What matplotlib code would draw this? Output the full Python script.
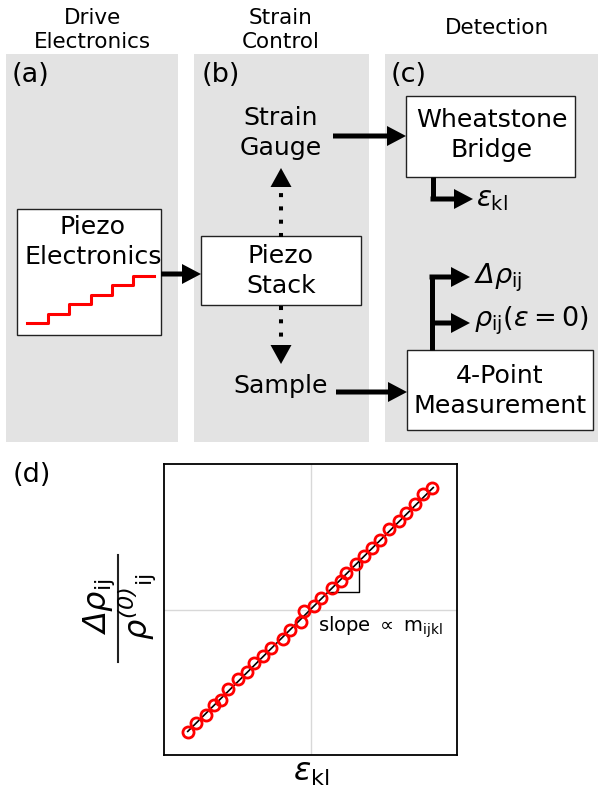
import matplotlib
matplotlib.use('Agg')
import matplotlib.pyplot as plt
from matplotlib.patches import Rectangle, Polygon

plt.rcParams['font.family'] = 'DejaVu Sans'
# italic roman so that capital Greek letters come out slanted; upright text goes through \mathsf
plt.rcParams['mathtext.fontset'] = 'custom'
plt.rcParams['mathtext.rm'] = 'DejaVu Sans:italic'
plt.rcParams['mathtext.it'] = 'DejaVu Sans:italic'
plt.rcParams['mathtext.sf'] = 'DejaVu Sans'
plt.rcParams['mathtext.bf'] = 'DejaVu Sans:bold'

# strain sweep and the normalized resistivity change measured at each step
strain = [-0.838, -0.781, -0.713, -0.656, -0.610, -0.560, -0.492, -0.435, -0.383, -0.326,
          -0.273, -0.185, -0.137, -0.068, -0.046, 0.027, 0.073, 0.148, 0.205, 0.244,
          0.312, 0.362, 0.419, 0.472, 0.535, 0.604, 0.649, 0.711, 0.768, 0.829]
drho = [-0.841, -0.779, -0.722, -0.658, -0.619, -0.543, -0.481, -0.428, -0.371, -0.318,
        -0.268, -0.206, -0.142, -0.085, -0.011, 0.023, 0.080, 0.149, 0.195, 0.252,
        0.312, 0.371, 0.426, 0.481, 0.550, 0.609, 0.660, 0.722, 0.797, 0.838]

# linear fit and slope marker
fit_x = [-0.838, 0.838]
fit_y = [-0.838, 0.838]
tri_x = [0.117, 0.328, 0.328]
tri_y = [0.117, 0.117, 0.328]

# voltage staircase of the piezo driver
step_t = [0, 1, 2, 3, 4, 5, 6]
step_v = [0, 1, 2, 3, 4, 5, 5]

W, H = 598, 789
fig = plt.figure(figsize=(W / 100, H / 100), dpi=100)


def rect(x0, y0, x1, y1):
    return [x0 / W, 1 - y1 / H, (x1 - x0) / W, (y1 - y0) / H]


ax = fig.add_axes([0, 0, 1, 1])
ax.set_xlim(0, W)
ax.set_ylim(H, 0)
ax.axis('off')

gray = '#e3e3e3'
for x0, x1 in [(6, 178), (194, 369), (385, 598)]:
    ax.add_patch(Rectangle((x0, 54), x1 - x0, 388, fc=gray, ec='none'))

for x0, y0, x1, y1 in [(17, 209, 161, 335), (201, 236, 361, 305),
                       (406, 96, 575, 177), (407, 350, 593, 430)]:
    ax.add_patch(Rectangle((x0, y0), x1 - x0, y1 - y0, fc='white', ec='#222222', lw=1.0))

fs = 18.2
ls = 1.3
ax.text(92, 30, 'Drive\nElectronics', ha='center', va='center', fontsize=15.5, linespacing=1.25)
ax.text(281, 30, 'Strain\nControl', ha='center', va='center', fontsize=15.5, linespacing=1.25)
ax.text(497, 28, 'Detection', ha='center', va='center', fontsize=15.5)

for x, lab in [(12, '(a)'), (202, '(b)'), (391, '(c)')]:
    ax.text(x, 75, lab, ha='left', va='center', fontsize=19.5)

ax.text(93, 242, 'Piezo\nElectronics', ha='center', va='center', fontsize=fs, linespacing=ls)
ax.text(281, 271, 'Piezo\nStack', ha='center', va='center', fontsize=fs, linespacing=ls)
ax.text(281, 133, 'Strain\nGauge', ha='center', va='center', fontsize=fs, linespacing=ls)
ax.text(281, 386, 'Sample', ha='center', va='center', fontsize=fs)
ax.text(492, 135, 'Wheatstone\nBridge', ha='center', va='center', fontsize=fs, linespacing=ls)
ax.text(500, 391, '4-Point\nMeasurement', ha='center', va='center', fontsize=fs, linespacing=ls)


def arrow(x0, y0, x1, y1):
    ax.arrow(x0, y0, x1 - x0, y1 - y0, width=5, head_width=20, head_length=19,
             length_includes_head=True, fc='k', ec='none')


arrow(161, 274, 201, 274)
arrow(333, 136, 406, 136)
arrow(336, 392, 407, 392)

# strain gauge readout
ax.plot([433, 433], [177, 199], color='k', lw=3.6, solid_capstyle='butt')
arrow(430.5, 199, 473, 199)
ax.text(476, 199, r'$\varepsilon_{\mathsf{kl}}$', ha='left', va='center', fontsize=20)

# resistivity readout
ax.plot([432, 432], [350, 274.5], color='k', lw=3.6, solid_capstyle='butt')
arrow(429.5, 277, 470, 277)
arrow(432, 323, 470, 323)
ax.text(474, 278, r'$\Delta\rho_{\mathsf{ij}}$', ha='left', va='center', fontsize=19.5)
ax.text(474, 321, r'$\rho_{\mathsf{ij}}\mathsf{(}\varepsilon\mathsf{=0)}$', ha='left', va='center',
        fontsize=19.5)

# piezo stack motion, up and down
ax.plot([281, 281], [237, 190], color='k', lw=2.9, linestyle=(0, (1, 2.3)), dash_capstyle='butt')
ax.plot([281, 281], [306, 343], color='k', lw=2.9, linestyle=(0, (1, 2.3)), dash_capstyle='butt')
ax.add_patch(Polygon([(270.5, 187), (291.5, 187), (281, 168)], fc='k', ec='none'))
ax.add_patch(Polygon([(270.5, 345), (291.5, 345), (281, 364)], fc='k', ec='none'))

# staircase inside the driver box
ax_st = fig.add_axes(rect(27, 276, 154, 323))
ax_st.plot(step_t, step_v, drawstyle='steps-post', color='#ff0000', lw=2.2, clip_on=False)
ax_st.set_xlim(0, 6)
ax_st.set_ylim(0, 5)
ax_st.axis('off')

# (d) resistivity vs strain
ax.text(13, 475, '(d)', ha='left', va='center', fontsize=19.5)
ax2 = fig.add_axes(rect(164, 464, 457, 755))
ax2.axhline(0, color='#d8d8d8', lw=1.0, zorder=0)
ax2.axvline(0, color='#d8d8d8', lw=1.0, zorder=0)
ax2.plot(fit_x, fit_y, color='k', lw=1.2, zorder=2)
ax2.plot(strain, drho, 'o', mfc='none', mec='#ff0000', mew=2.0, ms=8, zorder=3)
ax2.plot(tri_x, tri_y, color='k', lw=1.0, zorder=2)
ax2.text(0.05, -0.12, r'slope $\mathsf{\propto}$ m$_{\mathsf{ijkl}}$', ha='left', va='center', fontsize=14)
ax2.set_xlim(-1, 1)
ax2.set_ylim(-1, 1)
ax2.set_xticks([])
ax2.set_yticks([])
for s in ax2.spines.values():
    s.set_linewidth(1.3)

ax.text(311, 772, r'$\varepsilon_{\mathsf{kl}}$', ha='center', va='center', fontsize=23)

# y label written as a stacked fraction
ax.plot([118, 118], [555, 662], color='#222222', lw=1.5)
ax.text(99, 607, r'$\Delta\rho_{\mathsf{ij}}$', ha='center', va='center', rotation=90, fontsize=23)
ax.text(137, 606, r'${\rho^{(0)}}_{\mathsf{ij}}$', ha='center', va='center', rotation=90, fontsize=23)

fig.savefig('out.png', dpi=100)
